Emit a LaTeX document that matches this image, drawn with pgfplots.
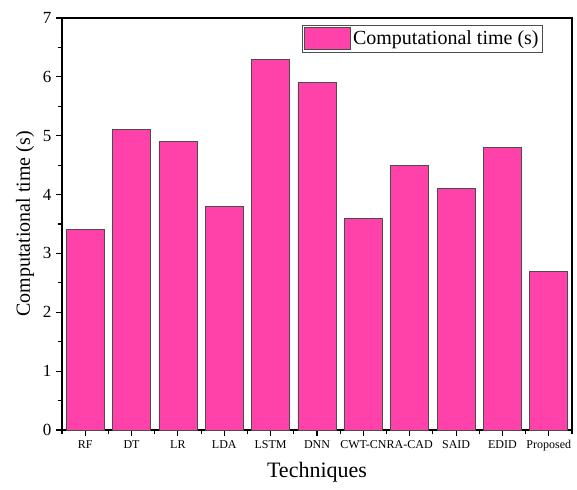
\documentclass[border=0pt]{standalone}
\usepackage{pgfplots}
\pgfplotsset{compat=1.18}
\usepackage{fontspec}
\setmainfont{Liberation Serif}
\definecolor{barpink}{RGB}{255,66,170}
\begin{document}
\begin{tikzpicture}
\useasboundingbox (-62pt,-59pt) rectangle (515pt,430pt);
\begin{axis}[
  at={(0,0)}, anchor=south west,
  scale only axis, width=510pt, height=412pt,
  xmin=-0.5, xmax=10.5, ymin=0, ymax=7,
  axis line style={line width=1.3pt},
  xtick={0,...,10},
  xticklabels={RF,DT,LR,LDA,LSTM,DNN,CWT-CN,RA-CAD,SAID,EDID,Proposed},
  minor xtick={-0.5,0.5,...,10.5},
  ytick={0,...,7},
  minor ytick={0.5,1.5,...,6.5},
  tick align=outside,
  major tick length=6pt, minor tick length=4pt,
  tick style={line width=1.1pt, black},
  xtick pos=bottom, ytick pos=left,
  /pgf/number format/assume math mode=true,
  yticklabel style={font=\fontsize{17}{17}\selectfont, xshift=-1pt},
  xticklabel style={font=\fontsize{12}{12}\selectfont, yshift=-1pt},
  xlabel={Techniques},
  ylabel={Computational time (s)},
  xlabel style={font=\fontsize{22}{22}\selectfont, at={(axis description cs:0.5,-0.102)}, anchor=center},
  ylabel style={font=\fontsize{20}{20}\selectfont, at={(axis description cs:-0.0725,0.5)}, anchor=center},
  legend style={at={(axis cs:10.5,7)}, anchor=north east, xshift=-29pt, yshift=-7pt,
    draw=black!70, line width=0.8pt, font=\fontsize{20}{20}\selectfont,
    inner xsep=2pt, inner ysep=2pt},
  legend image code/.code={\draw[#1, line width=0.8pt] (0pt,-11pt) rectangle (46pt,11pt);},
  legend cell align=left,
]
\addplot[ybar, bar width=0.82, fill=barpink, draw=black!70, line width=0.8pt]
  coordinates {(0,3.4) (1,5.1) (2,4.9) (3,3.8) (4,6.3) (5,5.9) (6,3.6) (7,4.5) (8,4.1) (9,4.8) (10,2.7)};
\addlegendentry{Computational time (s)}
\end{axis}
\end{tikzpicture}
\end{document}
